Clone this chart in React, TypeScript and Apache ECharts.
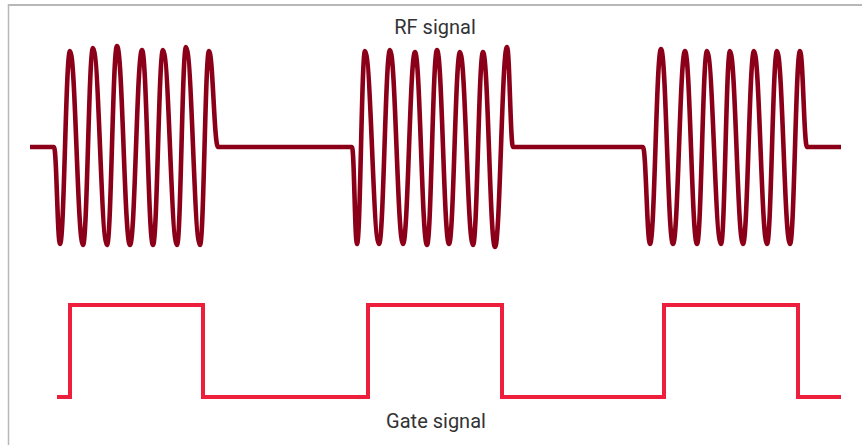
import React, { useEffect, useRef } from "react";
import * as echarts from "echarts";

// RF trace: flat baseline from start to end, with three bursts.
const rfStart = 30;
const rfEnd = 841;

// Burst extremes (time position, amplitude)
const burst1Times = [54, 60, 70, 83, 93, 107, 117, 130, 142, 153, 163, 177, 186, 200, 209, 218];
const burst1Values = [0, -0.97, 0.96, -0.98, 0.99, -0.98, 1.01, -0.98, 0.97, -0.98, 0.97, -0.98, 1.0, -0.98, 0.96, 0];

const burst2Times = [352, 357, 365, 379, 390, 403, 415, 427, 437, 449, 460, 473, 483, 495, 507, 513];
const burst2Values = [0, -0.97, 0.96, -0.97, 0.97, -0.97, 0.95, -0.98, 0.97, -0.97, 0.95, -0.98, 0.95, -1.0, 1.0, 0];

const burst3Times = [643, 650, 661, 673, 685, 697, 707, 721, 730, 743, 754, 767, 777, 790, 800, 807];
const burst3Values = [0, -0.97, 0.98, -0.97, 0.96, -0.97, 0.96, -0.97, 0.96, -0.97, 0.96, -0.97, 0.96, -0.97, 0.96, 0];

// Gate signal: edge times and the level reached at each time
const gateTimes = [57, 70, 203, 368, 502, 664, 798, 841];
const gateLevels = [0, 1, 0, 1, 0, 1, 0, 0];

const rfLabel = "RF signal";
const gateLabel = "Gate signal";

const zip = (xs: number[], ys: number[]) => xs.map((x, i) => [x, ys[i]]);

export default function App() {
  const ref = useRef<HTMLDivElement>(null);
  useEffect(() => {
    document.body.style.margin = "0";
    const chart = echarts.init(ref.current!, null, { renderer: "svg" });
    const rfData = [
      [rfStart, 0],
      ...zip(burst1Times, burst1Values),
      ...zip(burst2Times, burst2Values),
      ...zip(burst3Times, burst3Values),
      [rfEnd, 0],
    ];
    const gateData = zip(gateTimes, gateLevels);
    chart.setOption({
      animation: false,
      backgroundColor: "#ffffff",
      grid: [
        { left: 0, right: 0, top: 27, bottom: 178 },
        { left: 0, right: 0, top: 305, bottom: 48 },
      ],
      xAxis: [
        { type: "value", min: 0, max: 862, show: false, gridIndex: 0 },
        { type: "value", min: 0, max: 862, show: false, gridIndex: 1 },
      ],
      yAxis: [
        { type: "value", min: -1.2, max: 1.2, show: false, gridIndex: 0 },
        { type: "value", min: 0, max: 1, show: false, gridIndex: 1 },
      ],
      series: [
        {
          type: "line",
          xAxisIndex: 0,
          yAxisIndex: 0,
          data: rfData,
          smooth: 0.42,
          smoothMonotone: "x",
          symbol: "none",
          clip: false,
          lineStyle: { color: "#8b0018", width: 4.6, join: "round" },
        },
        {
          type: "line",
          xAxisIndex: 1,
          yAxisIndex: 1,
          data: gateData,
          step: "end",
          symbol: "none",
          clip: false,
          lineStyle: { color: "#ee1f3d", width: 4, join: "miter", cap: "butt" },
        },
      ],
      graphic: [
        {
          type: "line",
          shape: { x1: 8, y1: 5, x2: 862, y2: 5 },
          style: { stroke: "#b8b8b8", lineWidth: 2 },
        },
        {
          type: "line",
          shape: { x1: 8.5, y1: 4, x2: 8.5, y2: 445 },
          style: { stroke: "#b8b8b8", lineWidth: 1.5 },
        },
        {
          type: "text",
          x: 435,
          y: 27,
          style: {
            text: rfLabel,
            fontSize: 20,
            fontFamily: "Roboto",
            fill: "#333333",
            align: "center",
            verticalAlign: "middle",
            textAlign: "center",
            textVerticalAlign: "middle",
          },
        },
        {
          type: "text",
          x: 436,
          y: 421,
          style: {
            text: gateLabel,
            fontSize: 20,
            fontFamily: "Roboto",
            fill: "#333333",
            align: "center",
            verticalAlign: "middle",
            textAlign: "center",
            textVerticalAlign: "middle",
          },
        },
      ],
    });
    return () => chart.dispose();
  }, []);
  return <div ref={ref} style={{ width: 862, height: 445 }} />;
}
